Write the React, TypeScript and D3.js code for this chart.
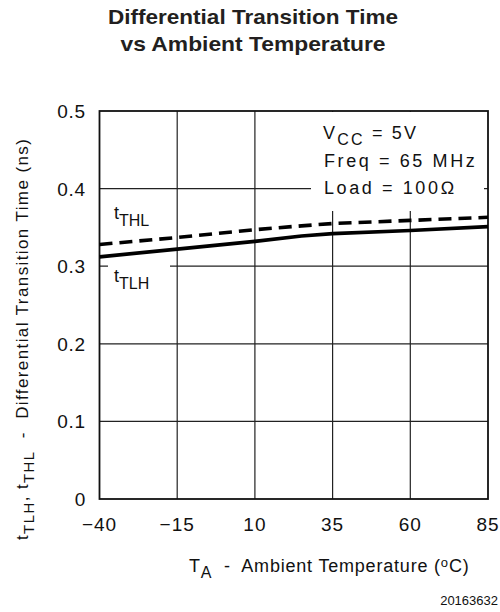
import React from "react";
import * as d3 from "d3";

const temps = [-40, -15, 10, 25, 35, 60, 85];
const tTHL = [0.328, 0.337, 0.347, 0.352, 0.355, 0.359, 0.363];
const tTLH = [0.312, 0.322, 0.332, 0.339, 0.342, 0.346, 0.351];
const xTicks = [-40, -15, 10, 35, 60, 85];
const xTickLabels = ["\u221240", "\u221215", "10", "35", "60", "85"];
const yTicks = [0, 0.1, 0.2, 0.3, 0.4, 0.5];
const yTickLabels = ["0", "0.1", "0.2", "0.3", "0.4", "0.5"];
const titleLines = ["Differential Transition Time", "vs Ambient Temperature"];
const noteLines = ["Freq = 65 MHz", "Load = 100\u2126"];

const W = 500;
const H = 612;
const L = 99.5, R = 488, T = 111, B = 499;
const FONT = "'Liberation Sans', Arial, sans-serif";

export default function App() {
  const x = d3.scaleLinear().domain([-40, 85]).range([L, R]);
  const y = d3.scaleLinear().domain([0, 0.5]).range([B, T]);
  const line = d3
    .line<[number, number]>()
    .x((d) => x(d[0]))
    .y((d) => y(d[1]));
  const thl = line(temps.map((t, i) => [t, tTHL[i]] as [number, number])) || "";
  const tlh = line(temps.map((t, i) => [t, tTLH[i]] as [number, number])) || "";
  const titleWidths = [290, 265];

  return (
    <svg
      width={W}
      height={H}
      style={{ position: "absolute", left: 0, top: 0, background: "#fff" }}
      fontFamily={FONT}
    >
      <rect x={0} y={0} width={W} height={H} fill="#fff" />
      {/* title */}
      {titleLines.map((s, i) => (
        <text
          key={s}
          x={253 - titleWidths[i] / 2}
          y={24 + i * 27}
          fontWeight="bold"
          fontSize={21}
          fill="#231f20"
          textLength={titleWidths[i]}
          lengthAdjust="spacingAndGlyphs"
        >
          {s}
        </text>
      ))}
      {/* grid */}
      {xTicks.slice(1, -1).map((t) => (
        <line key={"gx" + t} x1={x(t)} x2={x(t)} y1={T} y2={B} stroke="#222" strokeWidth={1.2} />
      ))}
      {yTicks.slice(1, -1).map((t) => (
        <line key={"gy" + t} x1={L} x2={R} y1={y(t)} y2={y(t)} stroke="#222" strokeWidth={1.2} />
      ))}
      {/* masks behind labels */}
      <rect x={311} y={T + 1} width={173} height={99} fill="#fff" />
      <rect x={108} y={262} width={62} height={34} fill="#fff" />
      {/* frame */}
      <rect x={L} y={T} width={R - L} height={B - T} fill="none" stroke="#111" strokeWidth={1.8} />
      {/* data */}
      <path d={thl} fill="none" stroke="#000" strokeWidth={3.6} strokeDasharray="13,7" />
      <path d={tlh} fill="none" stroke="#000" strokeWidth={3.6} />
      {/* curve labels */}
      <text x={114} y={219} fontSize={18} fill="#111">
        t<tspan dy={7} fontSize={16}>THL</tspan>
      </text>
      <text x={114} y={282} fontSize={18} fill="#111">
        t<tspan dy={7} fontSize={16}>TLH</tspan>
      </text>
      {/* conditions */}
      <text x={323} y={139} fontSize={18} fill="#111" letterSpacing={2.2} style={{ whiteSpace: "pre" }}>
        V<tspan dy={6} fontSize={16}>CC</tspan>
        <tspan dy={-6}>{" = 5V"}</tspan>
      </text>
      {noteLines.map((s, i) => (
        <text key={s} x={324} y={167 + i * 27} fontSize={18} fill="#111" letterSpacing={2.6} style={{ whiteSpace: "pre" }}>
          {s}
        </text>
      ))}
      {/* y ticks */}
      {yTicks.map((t, i) => (
        <text key={"yt" + t} x={86} y={y(t) + 7} textAnchor="end" fontSize={19} fill="#111" letterSpacing={0.8}>
          {yTickLabels[i]}
        </text>
      ))}
      {/* x ticks */}
      {xTicks.map((t, i) => (
        <text key={"xt" + t} x={x(t)} y={531} textAnchor="middle" fontSize={19} fill="#111" letterSpacing={1}>
          {xTickLabels[i]}
        </text>
      ))}
      {/* x title */}
      <text x={189} y={572} fontSize={18} fill="#111" letterSpacing={0.8} style={{ whiteSpace: "pre" }}>
        T<tspan dy={6} fontSize={16}>A</tspan>
        <tspan dy={-6}>{"  -  Ambient Temperature ("}</tspan>
        <tspan dy={-5} fontSize={13}>o</tspan>
        <tspan dy={5}>C)</tspan>
      </text>
      {/* y title */}
      <text
        transform="translate(28,540) rotate(-90)"
        fontSize={17}
        fill="#111"
        letterSpacing={1.4}
        style={{ whiteSpace: "pre" }}
      >
        t<tspan dy={6} fontSize={15}>TLH</tspan>
        <tspan dy={-6}>{", t"}</tspan>
        <tspan dy={6} fontSize={15}>THL</tspan>
        <tspan dy={-6}>{"  -  Differential Transition Time (ns)"}</tspan>
      </text>
      {/* code */}
      <text x={498} y={605} textAnchor="end" fontSize={13} fill="#111">
        20163632
      </text>
    </svg>
  );
}
